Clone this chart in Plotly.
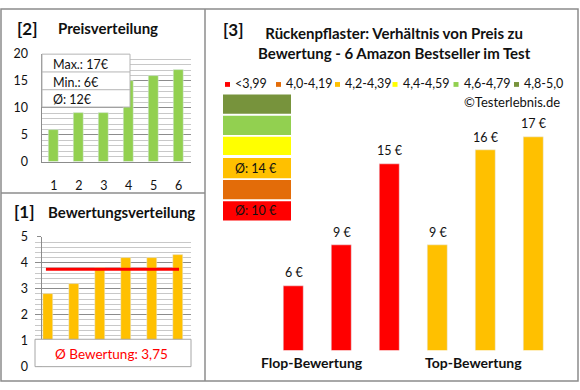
import plotly.graph_objects as go

W, H = 580, 390
FONT = "Lato"

# ---------------- data ----------------
price_positions = [1, 2, 3, 4, 5, 6]
prices = [6, 9, 9, 15, 16, 17]

rating_positions = [1, 2, 3, 4, 5, 6]
ratings = [2.8, 3.2, 3.8, 4.2, 4.2, 4.3]

flop_positions = [0, 1, 2]
flop_prices = [6, 9, 15]
top_positions = [3, 4, 5]
top_prices = [9, 16, 17]
group_labels = ["Flop-Bewertung", "Top-Bewertung"]

legend_labels = ["<3,99", "4,0-4,19", "4,2-4,39", "4,4-4,59", "4,6-4,79", "4,8-5,0"]
legend_colors = ["#FF0000", "#E36C09", "#FFC000", "#FFFF00", "#92D050", "#77933C"]

title3 = "Rückenpflaster: Verhältnis von Preis zu<br>Bewertung - 6 Amazon Bestseller im Test"

avg_price = round(sum(prices) / len(prices))
avg_rating = sum(ratings) / len(ratings)
avg_flop = round(sum(flop_prices) / len(flop_prices))
avg_top = round(sum(top_prices) / len(top_prices))


def px(x):
    return x / W


def py(y):
    return 1 - y / H


GRID_MAJOR = "#8c8c8c"
GRID_MINOR = "#c8c8c8"
BORDER = "#8c8c8c"
TXT = "#111111"

fig = go.Figure()

fig.add_trace(go.Bar(x=price_positions, y=prices, marker_color="#92D050", width=0.4,
                     xaxis="x", yaxis="y", showlegend=False, hoverinfo="skip"))
fig.add_trace(go.Bar(x=rating_positions, y=ratings, marker_color="#FFC000", width=0.42,
                     xaxis="x2", yaxis="y2", showlegend=False, hoverinfo="skip"))
fig.add_trace(go.Bar(x=flop_positions, y=flop_prices, marker_color="#FF0000", width=0.4,
                     xaxis="x3", yaxis="y3", showlegend=False, hoverinfo="skip"))
fig.add_trace(go.Bar(x=top_positions, y=top_prices, marker_color="#FFC000", width=0.4,
                     xaxis="x3", yaxis="y3", showlegend=False, hoverinfo="skip"))

tickfont = dict(family=FONT, size=12.5, color=TXT)

layout = dict(
    width=W, height=H, margin=dict(l=0, r=0, t=0, b=0),
    paper_bgcolor="white", plot_bgcolor="rgba(0,0,0,0)",
    font=dict(family=FONT, color=TXT),
    bargap=0,
    xaxis=dict(domain=[px(41.5), px(191)], range=[0.5, 6.5], tickvals=price_positions,
               ticktext=[str(v) for v in price_positions], showgrid=False, zeroline=False,
               showline=True, linecolor=GRID_MAJOR, tickfont=tickfont, ticks="",
               ticklabelstandoff=12, fixedrange=True),
    yaxis=dict(domain=[py(160), py(47.7)], range=[0, 20], dtick=5, showgrid=True,
               gridcolor=GRID_MAJOR, zeroline=False, showline=True, linecolor=GRID_MAJOR,
               tickfont=tickfont, ticks="", ticklabelstandoff=10,
               minor=dict(dtick=1, showgrid=True, gridcolor=GRID_MINOR), fixedrange=True),
    xaxis2=dict(domain=[px(35), px(191)], range=[0.5, 6.5], showticklabels=False,
                showgrid=False, zeroline=False, showline=False, fixedrange=True),
    yaxis2=dict(domain=[py(373), py(238)], range=[0, 5], dtick=1, showgrid=True,
                gridcolor=GRID_MAJOR, zeroline=False, showline=True, linecolor=GRID_MAJOR,
                tickfont=tickfont, ticks="outside", ticklen=4, tickcolor=GRID_MAJOR,
                ticklabelstandoff=6,
                minor=dict(dtick=0.2, showgrid=True, gridcolor=GRID_MINOR), fixedrange=True),
    xaxis3=dict(domain=[px(269.5), px(557.5)], range=[-0.5, 5.5], visible=False,
                fixedrange=True),
    yaxis3=dict(domain=[py(356), py(91.6)], range=[1.25, 20], visible=False,
                fixedrange=True),
)
fig.update_layout(**layout)

shapes = []
annotations = []

# outer border and panel separators
shapes.append(dict(type="rect", xref="paper", yref="paper", x0=px(1), x1=px(578), y0=py(388), y1=py(1),
                   line=dict(color=BORDER, width=1.5), fillcolor="rgba(0,0,0,0)"))
shapes.append(dict(type="line", xref="paper", yref="paper", x0=px(205), x1=px(205), y0=py(388), y1=py(1),
                   line=dict(color=BORDER, width=1.5)))
shapes.append(dict(type="line", xref="paper", yref="paper", x0=px(1), x1=px(205), y0=py(192.5), y1=py(192.5),
                   line=dict(color=BORDER, width=1.5)))

# panel titles
annotations += [
    dict(text="<b>[2]</b>", x=px(27), y=py(21), font=dict(size=17)),
    dict(text="<b>Preisverteilung</b>", x=px(107.5), y=py(21), font=dict(size=15)),
    dict(text="<b>[1]</b>", x=px(24), y=py(212), font=dict(size=17)),
    dict(text="<b>Bewertungsverteilung</b>", x=px(121.5), y=py(212), font=dict(size=15)),
    dict(text="<b>[3]</b>", x=px(233), y=py(22), font=dict(size=17)),
    dict(text="<b>" + title3 + "</b>", x=px(394), y=py(36), font=dict(size=15)),
    dict(text="©Testerlebnis.de", x=px(562), y=py(98), xanchor="right", font=dict(size=13)),
]

# panel 2 info box
shapes.append(dict(type="rect", xref="paper", yref="paper", x0=px(42), x1=px(130), y0=py(103), y1=py(48),
                   line=dict(color="#b4b4b4", width=1), fillcolor="white", layer="above"))
for yy in (66.5, 85):
    shapes.append(dict(type="line", xref="paper", yref="paper", x0=px(42), x1=px(130), y0=py(yy), y1=py(yy),
                       line=dict(color="#b4b4b4", width=1), layer="above"))
annotations += [
    dict(text=f"Max.: {max(prices)}€", x=px(51), y=py(58.5), xanchor="left", font=dict(size=12.5)),
    dict(text=f"Min.: {min(prices)}€", x=px(51), y=py(77.5), xanchor="left", font=dict(size=12.5)),
    dict(text=f"Ø: {avg_price}€", x=px(51), y=py(95), xanchor="left", font=dict(size=12.5)),
]

# panel 1 average line and box
shapes.append(dict(type="line", xref="x2", yref="y2", x0=0.92, x1=6.04, y0=avg_rating, y1=avg_rating,
                   line=dict(color="#FF0000", width=3), layer="above"))
shapes.append(dict(type="rect", xref="paper", yref="paper", x0=px(35), x1=px(191), y0=py(373), y1=py(344.5),
                   line=dict(color="#a6a6a6", width=1), fillcolor="white", layer="above"))
annotations.append(dict(text="Ø Bewertung: " + f"{avg_rating:.2f}".replace(".", ","),
                        x=px(111), y=py(359.5), font=dict(size=13.5, color="#FF0000")))

# panel 3 value labels
for xs, vs in ((flop_positions, flop_prices), (top_positions, top_prices)):
    for xv, v in zip(xs, vs):
        annotations.append(dict(text=f"{v} €", x=xv, y=v, xref="x3", yref="y3", yanchor="middle",
                                yshift=13, showarrow=False, font=dict(size=12.5)))

# group labels
annotations += [
    dict(text=f"<b>{group_labels[0]}</b>", x=px(312), y=py(369), font=dict(size=14)),
    dict(text=f"<b>{group_labels[1]}</b>", x=px(473), y=py(369), font=dict(size=14)),
]

# legend row
sq_x = [227.5, 278.5, 337.5, 395, 456, 516.5]
for sx, lab, col in zip(sq_x, legend_labels, legend_colors):
    shapes.append(dict(type="rect", xref="paper", yref="paper", x0=px(sx - 2.5), x1=px(sx + 2.5),
                       y0=py(82), y1=py(77), line=dict(width=0), fillcolor=col))
    annotations.append(dict(text=lab, x=px(sx + 5.5), y=py(79), xanchor="left", font=dict(size=12.5)))

# colour scale boxes (top = best rating)
box_rows = [(90, 110), (112, 132), (134, 153), (156, 177), (179, 199), (201, 221)]
box_colors = list(reversed(legend_colors))
for (y0, y1), col in zip(box_rows, box_colors):
    shapes.append(dict(type="rect", xref="paper", yref="paper", x0=px(223), x1=px(291), y0=py(y1), y1=py(y0),
                       line=dict(width=0), fillcolor=col))
annotations += [
    dict(text=f"Ø: {avg_top} €", x=px(233), y=py(166.5), xanchor="left", font=dict(size=12.5)),
    dict(text=f"Ø: {avg_flop} €", x=px(233), y=py(211), xanchor="left", font=dict(size=12.5)),
]

for a in annotations:
    a.setdefault("xref", "paper")
    a.setdefault("yref", "paper")
    a.setdefault("showarrow", False)
    a.setdefault("xanchor", "center")
    a.setdefault("yanchor", "middle")
    f = a.setdefault("font", {})
    f.setdefault("family", FONT)
    f.setdefault("color", TXT)

fig.update_layout(shapes=shapes, annotations=annotations)
fig.write_html("out.html", config={"displayModeBar": False},
               post_script="document.body.style.margin='0';document.body.style.overflow='hidden';")
